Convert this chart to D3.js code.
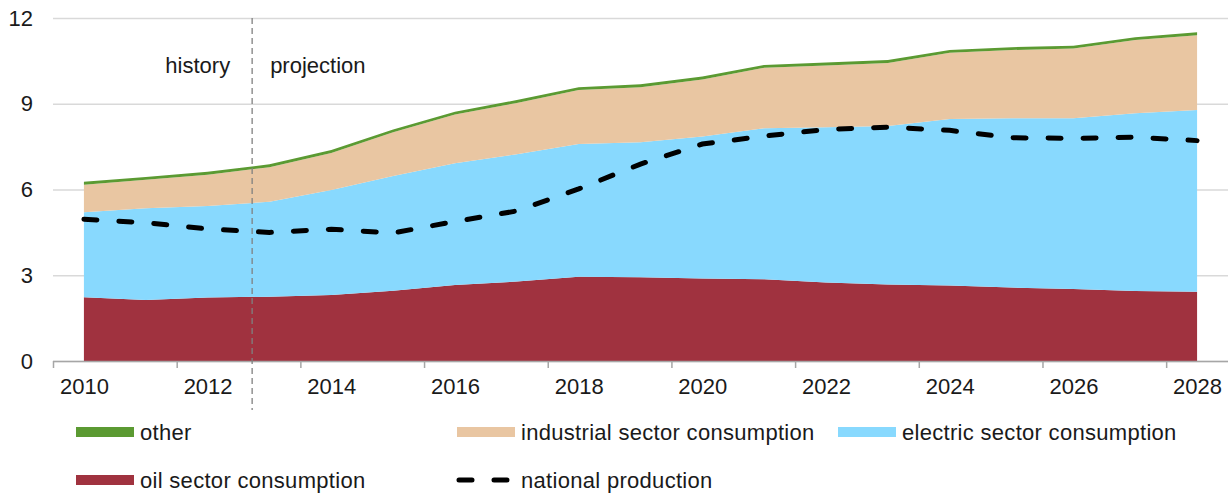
<!DOCTYPE html>
<html>
<head>
<meta charset="utf-8">
<script src="https://cdn.jsdelivr.net/npm/d3@7"></script>
<style>
  body { margin: 0; background: #fff; }
  svg { display: block; font-family: "Liberation Sans", Arial, sans-serif; }
  .tick text { font-size: 22px; fill: #1a1a1a; }
  .note { font-size: 22px; fill: #1a1a1a; }
  .legendText { font-size: 22px; fill: #1a1a1a; letter-spacing: 0.3px; }
</style>
</head>
<body>
<div class="chart"></div>
<script>
// data
const years = d3.range(2010, 2029);
const oilSector = [2.23, 2.13, 2.22, 2.25, 2.31, 2.46, 2.66, 2.78, 2.95, 2.93, 2.89, 2.86, 2.75, 2.68, 2.64, 2.57, 2.52, 2.45, 2.42];
const electricSector = [2.97, 3.21, 3.20, 3.32, 3.67, 4.01, 4.26, 4.45, 4.64, 4.72, 4.96, 5.28, 5.43, 5.54, 5.83, 5.92, 5.97, 6.22, 6.36];
const industrialSector = [0.97, 1.00, 1.10, 1.21, 1.30, 1.53, 1.70, 1.80, 1.89, 1.93, 2.00, 2.12, 2.16, 2.21, 2.31, 2.39, 2.44, 2.56, 2.62];
const other = [0.1, 0.1, 0.1, 0.1, 0.1, 0.1, 0.1, 0.1, 0.1, 0.1, 0.1, 0.1, 0.1, 0.1, 0.1, 0.1, 0.1, 0.1, 0.1];
const nationalProduction = [4.96, 4.84, 4.62, 4.5, 4.61, 4.48, 4.88, 5.25, 6.02, 6.89, 7.59, 7.87, 8.1, 8.18, 8.07, 7.81, 7.79, 7.83, 7.71];
const yTicks = [0, 3, 6, 9, 12];
const xLabels = [2010, 2012, 2014, 2016, 2018, 2020, 2022, 2024, 2026, 2028];
const dividerYear = 2012.72;

const keys = ['oil', 'electric', 'industrial', 'other'];
const colors = { oil: '#a0323f', electric: '#88d9fe', industrial: '#e9c6a2', other: '#5b9a32' };

const width = 1230;
const height = 494;
const plotLeft = 53, plotRight = 1228, plotTop = 18, plotBottom = 361;

let svg = d3.select('.chart').append('svg')
  .attr('width', width)
  .attr('height', height);

let x = d3.scaleLinear().domain([2009.5, 2028.5]).range([plotLeft, plotRight]);
let y = d3.scaleLinear().domain([0, 12]).range([plotBottom, plotTop]);

// rows for the stack
let rows = years.map((yr, i) => ({
  year: yr,
  oil: oilSector[i],
  electric: electricSector[i],
  industrial: industrialSector[i],
  other: other[i]
}));

// gridlines + y labels
let yAxis = svg.append('g')
  .attr('transform', `translate(${plotLeft},0)`)
  .call(d3.axisLeft(y).tickValues(yTicks).tickSize(-(plotRight - plotLeft)).tickPadding(20));
yAxis.select('.domain').remove();
yAxis.selectAll('.tick line').attr('stroke', '#d9d9d9').attr('stroke-width', 1.3);

// stacked areas
let series = d3.stack().keys(keys)(rows);
let area = d3.area()
  .x(d => x(d.data.year))
  .y0(d => y(d[0]))
  .y1(d => y(d[1]));

svg.append('g')
  .selectAll('path')
  .data(series)
  .enter()
  .append('path')
    .attr('d', area)
    .attr('fill', d => colors[d.key]);

// national production
let line = d3.line()
  .x((d, i) => x(years[i]))
  .y(d => y(d));
svg.append('path')
  .datum(nationalProduction)
  .attr('d', line)
  .attr('fill', 'none')
  .attr('stroke', '#000')
  .attr('stroke-width', 5)
  .attr('stroke-linecap', 'round')
  .attr('stroke-dasharray', '13,22');

// x axis: tick marks between categories, labels on categories
let tickMarks = xLabels.map(d => d - 0.5);
let xAxis = svg.append('g')
  .attr('transform', `translate(0,${plotBottom})`)
  .call(d3.axisBottom(x).tickValues(tickMarks).tickSize(7).tickFormat(''));
xAxis.select('.domain').attr('stroke', '#a6a6a6').attr('stroke-width', 1.5)
  .attr('d', `M${plotLeft},0.5H${plotRight}`);
xAxis.selectAll('.tick line').attr('stroke', '#a6a6a6').attr('stroke-width', 1.5);

let xLab = svg.append('g')
  .attr('transform', `translate(0,${plotBottom})`)
  .call(d3.axisBottom(x).tickValues(xLabels).tickSize(0).tickPadding(17).tickFormat(d3.format('d')));
xLab.select('.domain').remove();

// history / projection divider
svg.append('line')
  .attr('x1', x(dividerYear)).attr('x2', x(dividerYear))
  .attr('y1', plotTop).attr('y2', 410)
  .attr('stroke', '#808080')
  .attr('stroke-width', 1.3)
  .attr('stroke-dasharray', '6,4');

svg.append('text')
  .attr('class', 'note')
  .attr('x', x(dividerYear) - 22)
  .attr('y', 73)
  .style('text-anchor', 'end')
  .text('history');
svg.append('text')
  .attr('class', 'note')
  .attr('x', x(dividerYear) + 18)
  .attr('y', 73)
  .text('projection');

// legend
const legendItems = [
  { label: 'other', color: colors.other, lx: 76, ly: 432 },
  { label: 'industrial sector consumption', color: colors.industrial, lx: 457, ly: 432 },
  { label: 'electric sector consumption', color: colors.electric, lx: 838, ly: 432 },
  { label: 'oil sector consumption', color: colors.oil, lx: 76, ly: 480 },
  { label: 'national production', dash: true, lx: 457, ly: 480 }
];

let legend = svg.append('g')
  .selectAll('g')
  .data(legendItems)
  .enter()
  .append('g')
    .attr('transform', d => `translate(${d.lx},${d.ly})`);

legend.filter(d => !d.dash).append('rect')
  .attr('x', 0).attr('y', -5)
  .attr('width', 58).attr('height', 10)
  .attr('fill', d => d.color);

legend.filter(d => d.dash).append('line')
  .attr('x1', 2).attr('x2', 56)
  .attr('y1', 0).attr('y2', 0)
  .attr('stroke', '#000')
  .attr('stroke-width', 5)
  .attr('stroke-linecap', 'round')
  .attr('stroke-dasharray', '13,22');

legend.append('text')
  .attr('class', 'legendText')
  .attr('x', 64)
  .attr('y', 8)
  .text(d => d.label);
</script>
</body>
</html>
